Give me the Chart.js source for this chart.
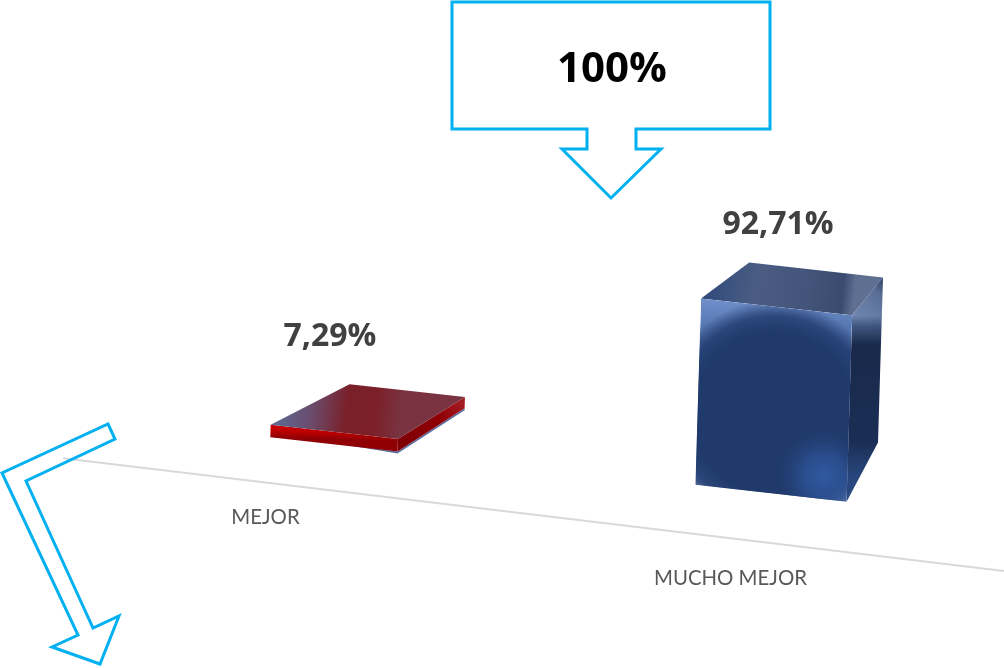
<!DOCTYPE html>
<html lang="es">
<head>
<meta charset="utf-8">
<title>Resultado</title>
<script src="https://cdn.jsdelivr.net/npm/chart.js@4"></script>
<style>
  html, body { margin: 0; padding: 0; background: #fff; }
  canvas { display: block; }
</style>
</head>
<body>
<canvas id="grafico" width="1004" height="668"></canvas>
<script>
const categorias = ['MEJOR', 'MUCHO MEJOR'];
const valores = [7.29, 92.71];
const totalTexto = '100%';

const AZUL_FLECHA = '#00b0f0';
const FUENTE = 'Lato, "Open Sans", sans-serif';
const FUENTE_FUERTE = '"Open Sans", Lato, sans-serif';

// punto de fuga de las aristas de profundidad y pendiente del suelo
const FUGA = { x: 1120, y: -13 };
const PENDIENTE_EJE = 0.12;
const PENDIENTE_BASE = 0.112;

function texto(v) {
  return v.toFixed(2).replace('.', ',') + '%';
}

function poligono(ctx, pts) {
  ctx.beginPath();
  pts.forEach((p, i) => i ? ctx.lineTo(p.x, p.y) : ctx.moveTo(p.x, p.y));
  ctx.closePath();
}

function haciaFuga(p, t) {
  return { x: p.x + (FUGA.x - p.x) * t, y: p.y + (FUGA.y - p.y) * t };
}

function lineal(ctx, a, b, paradas) {
  const g = ctx.createLinearGradient(a.x, a.y, b.x, b.y);
  paradas.forEach(([o, c]) => g.addColorStop(o, c));
  return g;
}

function radial(ctx, cx, cy, r, paradas) {
  const g = ctx.createRadialGradient(cx, cy, 0, cx, cy, r);
  paradas.forEach(([o, c]) => g.addColorStop(o, c));
  return g;
}

// caras de la caja azul
function pintarAzul(ctx, c) {
  const { fi, fd, si, sd, td, tb, ta } = c;

  poligono(ctx, [si, sd, ta, tb]);
  ctx.fillStyle = lineal(ctx, si, sd, [[0, '#2f4a7c'], [0.35, '#4a5c82'], [0.7, '#43547a'], [0.92, '#3a4b70'], [1, '#5f6f92']]);
  ctx.fill();

  poligono(ctx, [sd, fd, td, ta]);
  ctx.fillStyle = lineal(ctx, sd, { x: sd.x, y: fd.y }, [[0, '#6f86b0'], [0.06, '#3f5580'], [0.16, '#18294a'], [0.68, '#1a2e55'], [0.85, '#27457a'], [1, '#2c4c85']]);
  ctx.fill();
  poligono(ctx, [sd, fd, td, ta]);
  ctx.fillStyle = lineal(ctx, sd, ta, [[0, 'rgba(30,50,90,0)'], [0.7, 'rgba(20,36,68,0.25)'], [1, 'rgba(20,36,68,0.7)']]);
  ctx.fill();

  ctx.save();
  poligono(ctx, [si, sd, fd, fi]);
  ctx.clip();
  ctx.fillStyle = lineal(ctx, si, { x: si.x, y: fi.y }, [[0, '#7090cc'], [0.3, '#3f5f9a'], [0.75, '#2a4880'], [1, '#5a78ae']]);
  ctx.fill();
  const cx = (si.x + fd.x) / 2, cy = (si.y + fd.y) / 2 + 14;
  ctx.save();
  ctx.translate(cx, cy);
  ctx.scale(1, 1.02);
  ctx.fillStyle = radial(ctx, 0, 0, 112, [[0, '#203a6c'], [0.72, '#203a6c'], [0.86, 'rgba(32,58,108,0.8)'], [1, 'rgba(32,58,108,0)']]);
  ctx.fillRect(-130, -140, 260, 280);
  ctx.restore();
  // brillo inferior derecho
  ctx.fillStyle = radial(ctx, fd.x - 23, fd.y - 26, 44, [[0, 'rgba(48,90,160,1)'], [0.45, 'rgba(44,82,150,0.8)'], [1, 'rgba(40,75,135,0)']]);
  ctx.fillRect(fd.x - 70, fd.y - 75, 90, 90);
  ctx.restore();
}

// caras de la placa roja
function pintarRoja(ctx, c) {
  const { fi, fd, si, sd, td, tb, ta } = c;

  // filo azulado bajo la placa
  poligono(ctx, [{ x: fi.x + 60, y: fi.y + 5 }, { x: fd.x, y: fd.y + 2 }, { x: td.x, y: td.y + 2 }, td, fd]);
  ctx.fillStyle = '#5a6f9e';
  ctx.fill();

  poligono(ctx, [sd, fd, td, ta]);
  ctx.fillStyle = lineal(ctx, sd, ta, [[0, '#7e0005'], [0.6, '#900006'], [1, '#a52228']]);
  ctx.fill();

  poligono(ctx, [si, sd, fd, fi]);
  ctx.fillStyle = lineal(ctx, si, fi, [[0, '#c80008'], [0.45, '#c00000'], [1, '#8f0105']]);
  ctx.fill();

  poligono(ctx, [si, sd, ta, tb]);
  ctx.fillStyle = lineal(ctx, si, sd, [[0, '#5c6c98'], [0.3, '#6a4d6e'], [0.58, '#7a2029'], [0.8, '#7b2029'], [1, '#793341']]);
  ctx.fill();
}

const cajas3d = {
  id: 'cajas3d',
  afterDatasetsDraw(chart) {
    const { ctx, scales: { x, y } } = chart;
    const meta = chart.getDatasetMeta(0);
    const cierre = x.getPixelForValue(1);
    const cero = y.getPixelForValue(0);

    // línea del eje, inclinada sobre el suelo
    const medio = (x.left + x.right) / 2;
    ctx.save();
    ctx.strokeStyle = '#d9d9d9';
    ctx.lineWidth = 2;
    ctx.beginPath();
    ctx.moveTo(x.left, cero + (x.left - medio) * PENDIENTE_EJE);
    ctx.lineTo(chart.width, cero + (chart.width - medio) * PENDIENTE_EJE);
    ctx.stroke();

    meta.data.forEach((barra, i) => {
      // las cajas quedan detrás del eje: se corren y encogen al alejarse
      const lejos = cierre - barra.x;
      const cx = barra.x + 10.5 + lejos * 0.06;
      const k = 1 - lejos * 0.00034;
      const ancho = barra.width * k;
      const alto = (barra.base - barra.y) * k;
      const inclina = alto * 0.03;
      const suelo = xp => cero - 48 + (xp - medio) * PENDIENTE_BASE;
      const xi = cx - ancho / 2, xd = cx + ancho / 2;

      const fi = { x: xi, y: suelo(xi) };
      const fd = { x: xd, y: suelo(xd) };
      const si = { x: xi + inclina, y: fi.y - alto };
      const sd = { x: xd + inclina, y: fd.y - alto };
      const t = 0.094 + (k - 0.85) * 0.14;
      const td = haciaFuga(fd, t);
      const ta = haciaFuga(sd, t);
      const tb = haciaFuga(si, t);
      const caja = { fi, fd, si, sd, td, ta, tb };

      if (i === 0) pintarRoja(ctx, caja);
      else pintarAzul(ctx, caja);

      ctx.fillStyle = '#404040';
      ctx.font = 'bold 32px ' + FUENTE_FUERTE;
      ctx.textAlign = 'center';
      ctx.textBaseline = 'middle';
      ctx.fillText(texto(valores[i]), cx + (i === 0 ? -4 : 7), tb.y - (i === 0 ? 47 : 38));

      ctx.fillStyle = '#595959';
      ctx.font = '20.4px ' + FUENTE;
      ctx.fillText(categorias[i], barra.x - 30, cero + (barra.x - medio) * 0.131 + 33.5);
    });
    ctx.restore();
  }
};

// flechas de llamada alrededor del gráfico
const llamadas = {
  id: 'llamadas',
  afterDraw(chart) {
    const { ctx } = chart;
    ctx.save();
    ctx.strokeStyle = AZUL_FLECHA;
    ctx.lineWidth = 3;
    ctx.lineJoin = 'miter';
    const total = [[452, 2], [770, 2], [770, 129], [636, 129], [636, 149], [661, 149], [611, 198], [562, 149], [587, 149], [587, 129], [452, 129]];
    const doblada = [[108, 424], [115, 439], [26, 481], [93, 628], [119, 616], [100, 664], [52, 647], [78, 635], [2, 473]];
    [total, doblada].forEach(f => {
      poligono(ctx, f.map(([x, y]) => ({ x, y })));
      ctx.stroke();
    });
    ctx.fillStyle = '#000';
    ctx.font = 'bold 42px ' + FUENTE_FUERTE;
    ctx.textAlign = 'center';
    ctx.textBaseline = 'middle';
    ctx.fillText(totalTexto, 612, 70);
    ctx.restore();
  }
};

new Chart(document.querySelector('#grafico'), {
  type: 'bar',
  data: {
    labels: categorias,
    datasets: [{
      data: valores,
      backgroundColor: 'rgba(0,0,0,0)',
      categoryPercentage: 1,
      barPercentage: 0.325
    }]
  },
  options: {
    responsive: false,
    animation: false,
    layout: { padding: { left: 63, right: 11, top: 313, bottom: 154 } },
    plugins: { legend: { display: false }, tooltip: { enabled: false } },
    scales: {
      x: { display: false },
      y: { display: false, min: 0, max: 100 }
    }
  },
  plugins: [cajas3d, llamadas]
});
</script>
</body>
</html>
